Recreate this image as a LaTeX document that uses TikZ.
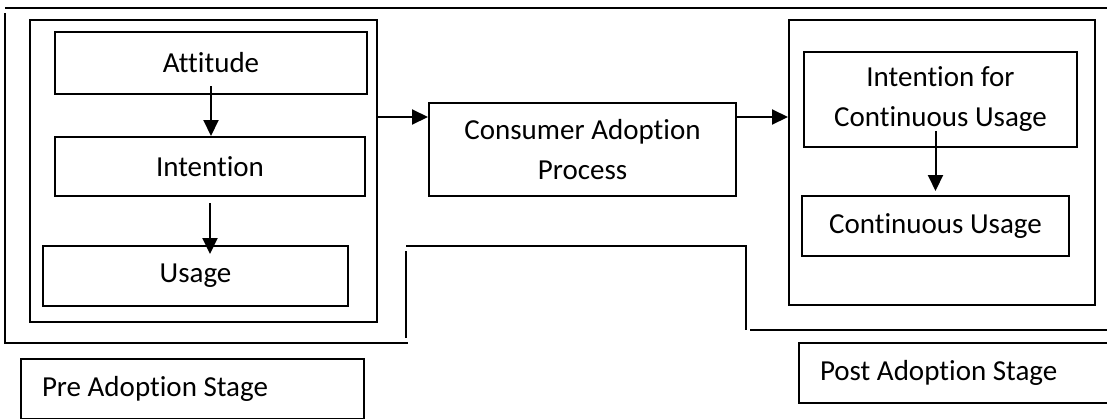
\documentclass[tikz,border=0pt]{standalone}
\usepackage{fontspec}
\setmainfont{Carlito}[Ligatures=NoCommon]
\usepackage{tikz}
\usetikzlibrary{calc, positioning, arrows.meta}

\begin{document}
\begin{tikzpicture}[
  x=1pt, y=-1pt, line width=2pt,
  stagebox/.style={draw, inner sep=0pt, align=center,
                   font=\fontsize{29}{40}\selectfont},
  framebox/.style={draw, inner sep=0pt},
  stagelabel/.style={stagebox, align=flush left, text width=301pt,
                     inner xsep=21pt, minimum height=60pt},
  flow/.style={-{Triangle[length=16pt, width=15pt]}},
]
\useasboundingbox (0,0) rectangle (1107,418);

\node[framebox, minimum width=347pt, minimum height=302pt] (preframe) at (203.5,171) {};
\node[framebox, minimum width=306pt, minimum height=285pt] (postframe) at (942,162.5) {};

\node[stagebox, minimum width=312pt, minimum height=62pt] (att) at (211,63) {Attitude};
\node[stagebox, minimum width=310pt, minimum height=59pt] (int) at (210,166.5) {Intention};
\node[stagebox, minimum width=305pt, minimum height=60pt] (use) at (195.5,276) {Usage};

\node[stagebox, minimum width=307pt, minimum height=93pt] (cap) at (582.5,149.5)
  {Consumer Adoption\\Process};

\node[stagebox, minimum width=273pt, minimum height=95pt] (icu) at (940.5,99.5)
  {Intention for\\Continuous Usage};
\node[stagebox, minimum width=267pt, minimum height=60pt] (cu) at (935.5,226)
  {Continuous Usage};

\node[stagelabel] (prelabel) at (192.5,389) {Pre Adoption Stage};
\node[stagelabel] (postlabel) at (970.5,373) {Post Adoption Stage};

\draw (5,8) -- (1107,8);
\draw (5,13) -- (5,343) -- (408,343);
\draw (406,338) -- (406,251);
\draw (406,246) -- (746,246) -- (746,330);
\draw (750,330) -- (1107,330);

\coordinate (mid) at (0,117);
\draw[flow] (preframe.east |- mid) -- (cap.west |- mid);
\draw[flow] (cap.east |- mid) -- (postframe.west |- mid);
\draw[flow] ($(att.south)+(0,-9)$) -- (att.south |- int.north);
\draw[flow] ($(int.south)+(0,6)$) -- ($(int.south |- use.north)+(0,9)$);
\draw[flow] ($(icu.south -| cu.north)+(0,-17)$) -- ($(cu.north)+(0,-4)$);
\end{tikzpicture}
\end{document}
